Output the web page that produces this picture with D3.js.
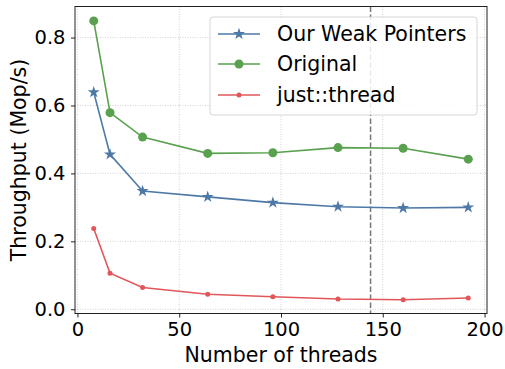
<!DOCTYPE html>
<html><head><meta charset="utf-8">
<script src="https://cdn.jsdelivr.net/npm/d3@7"></script>
<style>body{margin:0;background:#fff}svg{display:block}text{font-family:"DejaVu Sans",sans-serif;fill:#000}</style>
</head><body><svg id="c" width="505" height="369"></svg>
<script>
const threads = [8, 16, 32, 64, 96, 128, 160, 192];
const ourWeak = [0.639, 0.456, 0.348, 0.331, 0.314, 0.302, 0.298, 0.300];
const original = [0.849, 0.579, 0.507, 0.459, 0.461, 0.476, 0.474, 0.442];
const justThread = [0.238, 0.106, 0.064, 0.044, 0.037, 0.030, 0.028, 0.033];
const seriesNames = ["Our Weak Pointers", "Original", "just::thread"];
const xTicks = [0, 50, 100, 150, 200];
const yTicks = [0.0, 0.2, 0.4, 0.6, 0.8];
const vline = 144;

const svg = d3.select("#c");
const L = 75, R = 487, T = 6.5, B = 313.5;
const x = d3.scaleLinear().domain([-1.2, 201.2]).range([L, R]);
const y = d3.scaleLinear().domain([-0.0125, 0.8915]).range([B, T]);

// grid
const g = svg.append("g");
g.selectAll(".gx").data(xTicks).enter().append("line")
  .attr("x1", d => x(d)).attr("x2", d => x(d)).attr("y1", T).attr("y2", B)
  .attr("stroke", "#c8c8c8").attr("stroke-width", 0.8).attr("stroke-dasharray", "1,1.5");
g.selectAll(".gy").data(yTicks).enter().append("line")
  .attr("x1", L).attr("x2", R).attr("y1", d => y(d)).attr("y2", d => y(d))
  .attr("stroke", "#c8c8c8").attr("stroke-width", 0.8).attr("stroke-dasharray", "1,1.5");

// vline
svg.append("line").attr("x1", x(vline)).attr("x2", x(vline)).attr("y1", T).attr("y2", B)
  .attr("stroke", "#777").attr("stroke-width", 1.5).attr("stroke-dasharray", "5.5,2.5");

// axes
const xa = svg.append("g").attr("transform", `translate(0,${B})`)
  .call(d3.axisBottom(x).tickValues(xTicks).tickFormat(d3.format("d")).tickSize(4).tickPadding(4.5));
const ya = svg.append("g").attr("transform", `translate(${L},0)`)
  .call(d3.axisLeft(y).tickValues(yTicks).tickFormat(d3.format(".1f")).tickSize(4).tickPadding(5.5));
[xa, ya].forEach(a => {
  a.select(".domain").remove();
  a.selectAll("text").attr("font-size", 19.5).attr("font-family", "DejaVu Sans").attr("fill", "#000");
  a.selectAll("line").attr("stroke", "#222");
});
svg.append("rect").attr("x", L).attr("y", T).attr("width", R - L).attr("height", B - T)
  .attr("fill", "none").attr("stroke", "#222").attr("stroke-width", 1);

const colors = ["#4e79a7", "#59a14f", "#e15759"];
const all = [ourWeak, original, justThread];
const line = d3.line().x((d, i) => x(threads[i])).y(d => y(d));
const star = d3.symbol().type(d3.symbolStar);

all.forEach((vals, k) => {
  svg.append("path").datum(vals).attr("d", line).attr("fill", "none")
    .attr("stroke", colors[k]).attr("stroke-width", 1.6);
  const pts = svg.append("g");
  vals.forEach((v, i) => {
    if (k === 0) pts.append("path").attr("d", star.size(45)()).attr("transform", `translate(${x(threads[i])},${y(v)})`).attr("fill", colors[k]);
    else pts.append("circle").attr("cx", x(threads[i])).attr("cy", y(v)).attr("r", k === 1 ? 4.5 : 2.5).attr("fill", colors[k]);
  });
});

// legend
const lg = svg.append("g");
lg.append("rect").attr("x", 210).attr("y", 17).attr("width", 267).attr("height", 98).attr("rx", 3)
  .attr("fill", "#fff").attr("fill-opacity", 0.85).attr("stroke", "#ccc").attr("stroke-width", 0.8);
const rows = [34, 64, 95];
seriesNames.forEach((n, k) => {
  lg.append("line").attr("x1", 218).attr("x2", 260).attr("y1", rows[k]).attr("y2", rows[k])
    .attr("stroke", colors[k]).attr("stroke-width", 1.6);
  if (k === 0) lg.append("path").attr("d", star.size(45)()).attr("transform", `translate(239,${rows[k]})`).attr("fill", colors[k]);
  else lg.append("circle").attr("cx", 239).attr("cy", rows[k]).attr("r", k === 1 ? 4.5 : 2.5).attr("fill", colors[k]);
  lg.append("text").attr("x", 277).attr("y", rows[k]).attr("dy", "0.35em").attr("font-size", 20.5).text(n);
});

// axis labels
svg.append("text").attr("x", (L + R) / 2).attr("y", 362).attr("text-anchor", "middle").attr("font-size", 20.5).text("Number of threads");
svg.append("text").attr("transform", `translate(18.5,${(T + B) / 2}) rotate(-90)`).attr("dy", "0.35em").attr("text-anchor", "middle").attr("font-size", 20.5).text("Throughput (Mop/s)");
</script></body></html>
